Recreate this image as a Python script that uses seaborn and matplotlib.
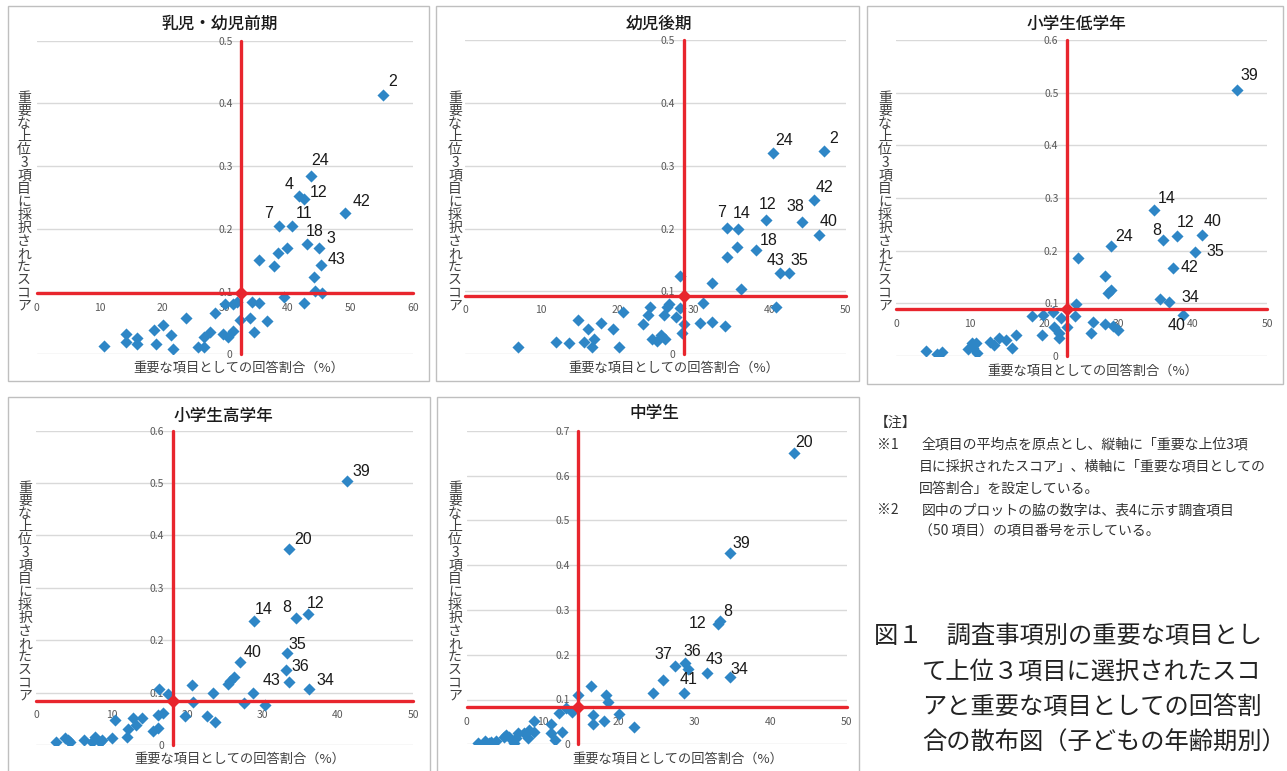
import numpy as np
import pandas as pd
import matplotlib
matplotlib.use("Agg")
import matplotlib.pyplot as plt
from matplotlib.patches import Rectangle
import seaborn as sns

# ---------------------------------------------------------------- data
titles = ["乳児・幼児前期", "幼児後期", "小学生低学年", "小学生高学年", "中学生"]

# 乳児・幼児前期
p1_x = [55.3, 43.7, 41.9, 42.7, 49.2, 38.7, 40.8, 43.2, 45.1, 45.3,
        39.9, 38.5, 35.4, 37.9, 44.3, 44.4, 45.5, 39.5, 42.6, 34.3, 35.4, 31.9,
        31.4, 30.1, 32.4, 34.1, 36.7, 34.7, 28.4, 23.9, 20.2, 18.7, 21.4, 19.1,
        21.8, 14.3, 14.3, 16.0, 16.0, 10.7, 25.8, 26.7, 26.7, 27.6, 29.7, 30.6, 31.4]
p1_y = [0.413, 0.285, 0.253, 0.248, 0.226, 0.204, 0.205, 0.176, 0.170, 0.143,
        0.170, 0.162, 0.151, 0.141, 0.123, 0.101, 0.098, 0.092, 0.082, 0.084, 0.082, 0.083,
        0.080, 0.080, 0.054, 0.058, 0.053, 0.035, 0.066, 0.058, 0.046, 0.038, 0.031, 0.016,
        0.0085, 0.032, 0.019, 0.026, 0.016, 0.014, 0.012, 0.012, 0.028, 0.035, 0.032, 0.028, 0.037]
p1_item = ["2", "24", "4", "12", "42", "7", "11", "18", "3", "43"]

# 幼児後期
p2_x = [47.1, 40.4, 45.8, 44.3, 39.5, 46.5, 34.4, 35.9, 38.2, 41.4, 42.6,
        35.7, 34.4, 32.5, 36.2, 28.2, 31.2, 40.8, 30.9, 32.5, 34.1, 28.8, 28.5, 27.7,
        26.8, 26.5, 26.1, 28.2, 24.3, 24.1, 23.4, 20.8, 19.4, 17.9, 16.2, 14.8, 17.0,
        16.7, 15.6, 13.7, 11.9, 7.0, 20.2, 24.5, 25.2, 25.8, 26.3]
p2_y = [0.324, 0.320, 0.245, 0.211, 0.214, 0.190, 0.201, 0.200, 0.166, 0.130, 0.130,
        0.170, 0.154, 0.114, 0.104, 0.125, 0.082, 0.075, 0.050, 0.052, 0.045, 0.048, 0.034, 0.060,
        0.080, 0.075, 0.063, 0.073, 0.075, 0.063, 0.048, 0.067, 0.040, 0.049, 0.041, 0.055, 0.024,
        0.012, 0.019, 0.018, 0.019, 0.012, 0.011, 0.024, 0.021, 0.031, 0.025]
p2_item = ["2", "24", "42", "38", "12", "40", "7", "14", "18", "43", "35"]

# 小学生低学年
p3_x = [45.9, 34.8, 36.0, 37.9, 41.2, 40.3, 37.3, 29.0, 36.7, 38.7,
        24.5, 28.1, 28.6, 29.0, 35.5, 24.2, 24.1, 21.2, 19.8, 18.3, 22.2, 23.0, 21.3,
        22.0, 21.9, 19.7, 26.5, 26.2, 28.2, 29.2, 29.9, 16.1, 14.8, 13.9, 12.7, 13.2,
        15.6, 10.8, 10.2, 9.7, 10.9, 4.0, 5.5, 6.2, 10.4]
p3_y = [0.505, 0.277, 0.220, 0.228, 0.230, 0.197, 0.168, 0.209, 0.103, 0.077,
        0.187, 0.152, 0.120, 0.125, 0.109, 0.098, 0.076, 0.084, 0.078, 0.076, 0.073, 0.056, 0.056,
        0.043, 0.035, 0.039, 0.065, 0.044, 0.061, 0.057, 0.049, 0.039, 0.030, 0.035, 0.027, 0.021,
        0.015, 0.024, 0.024, 0.013, 0.005, 0.010, 0.003, 0.008, 0.015]
p3_item = ["39", "14", "8", "12", "40", "35", "42", "24", "34", "40"]

# 小学生高学年
p4_x = [41.2, 33.5, 28.9, 34.4, 36.0, 33.2, 33.1, 33.5, 36.2, 27.0,
        26.2, 25.7, 25.5, 28.7, 27.5, 30.4, 23.4, 20.7, 20.8, 16.3, 17.5, 16.8, 16.2,
        16.2, 15.5, 19.8, 22.7, 23.7, 14.1, 12.8, 13.3, 12.2, 12.0, 10.5, 10.1, 8.7,
        7.8, 7.4, 6.4, 4.3, 3.9, 2.7, 4.5, 8.5]
p4_y = [0.504, 0.374, 0.237, 0.242, 0.250, 0.176, 0.143, 0.120, 0.106, 0.158,
        0.129, 0.123, 0.116, 0.100, 0.080, 0.076, 0.099, 0.115, 0.083, 0.107, 0.097, 0.062, 0.057,
        0.032, 0.027, 0.056, 0.055, 0.043, 0.051, 0.051, 0.038, 0.031, 0.016, 0.048, 0.013, 0.010,
        0.016, 0.006, 0.010, 0.010, 0.014, 0.005, 0.005, 0.006]
p4_item = ["39", "20", "14", "8", "12", "35", "36", "43", "34", "40"]

# 中学生
p5_x = [43.1, 34.7, 33.3, 33.1, 27.4, 28.7, 31.6, 34.7, 28.6,
        29.1, 25.8, 24.5, 16.4, 18.3, 18.6, 14.6, 16.6, 16.6, 18.0, 20.1, 22.0, 13.8,
        13.0, 12.2, 12.6, 11.1, 11.1, 11.6, 8.8, 8.2, 8.1, 7.5, 6.8, 6.2, 5.6, 4.9,
        3.9, 3.2, 2.4, 1.5, 2.9, 6.5, 8.9, 5.2]
p5_y = [0.651, 0.426, 0.275, 0.269, 0.175, 0.181, 0.160, 0.150, 0.114,
        0.167, 0.144, 0.115, 0.131, 0.111, 0.094, 0.109, 0.065, 0.045, 0.053, 0.068, 0.039, 0.071,
        0.080, 0.069, 0.028, 0.045, 0.025, 0.010, 0.052, 0.032, 0.015, 0.025, 0.025, 0.004, 0.017, 0.017,
        0.008, 0.006, 0.008, 0.004, 0.002, 0.013, 0.028, 0.021]
p5_item = ["20", "39", "8", "12", "37", "36", "43", "34", "41"]

# 全項目の平均点（原点）
mean_x = [32.6, 28.7, 23.0, 18.1, 14.7]
mean_y = [0.0972, 0.0933, 0.0892, 0.0846, 0.0826]
x_max = [60, 50, 50, 50, 50]
y_max = [0.5, 0.5, 0.6, 0.6, 0.7]

x_label = "重要な項目としての回答割合（%）"
y_label = "重要な上位3項目に採択されたスコア"

note_head = "【注】"
note_lines = [
    ("※1", "全項目の平均点を原点とし、縦軸に「重要な上位3項"),
    ("", "目に採択されたスコア」、横軸に「重要な項目としての"),
    ("", "回答割合」を設定している。"),
    ("※2", "図中のプロットの脇の数字は、表4に示す調査項目"),
    ("", "（50 項目）の項目番号を示している。"),
]
caption_lines = [
    "図１　調査事項別の重要な項目とし",
    "て上位３項目に選択されたスコ",
    "アと重要な項目としての回答割",
    "合の散布図（子どもの年齢期別）",
]

# ---------------------------------------------------------------- layout
W, H = 1287, 771
BLUE = "#2E86C6"
RED = "#E8252D"

# plot box per panel in pixels: (left, right, top, bottom)
plot_box = [(36.7, 412.7, 40.7, 354.3),
            (465.0, 845.7, 40.0, 354.3),
            (896.0, 1267.3, 40.0, 356.0),
            (36.0, 413.3, 430.7, 745.0),
            (466.7, 846.7, 430.7, 744.3)]
# outer frame per panel in pixels: (left, top, right, bottom)
frames = [(8, 6, 429, 381), (436, 6, 859, 381), (867, 6, 1283, 384),
          (8, 397, 430, 773), (437, 397, 859, 773)]
title_pos = [(220, 24), (659, 24), (1076, 24), (223, 416), (654, 413)]
xlabel_pos = [(239, 368), (674, 368), (1093, 371), (240, 759), (678, 759)]
ylabel_top = [(24, 98), (455, 98), (885, 98), (25, 488), (455, 488)]
# label offsets in pixels (dx, dy) for the numbered points, in order
label_offsets = [
    [(9, 14), (10, 15), (-10, 11), (14, 6), (16, 11), (-11, 13), (12, 12), (7, 12), (12, 9), (16, 5)],
    [(10, 12), (12, 13), (11, 13), (-7, 15), (2, 15), (10, 13), (-5, 15), (3, 15), (13, 9), (-5, 12), (10, 12)],
    [(12, 15), (12, 12), (-7, 10), (8, 13), (11, 13), (20, 1), (17, 0), (13, 9), (22, 4), (-7, -10)],
    [(14, 9), (14, 10), (10, 11), (-9, 11), (8, 11), (11, 8), (15, 4), (-17, 2), (16, 9), (13, 10)],
    [(10, 10), (11, 10), (8, 10), (-21, 0), (-12, 11), (8, 12), (8, 13), (9, 8), (5, 14)],
]

sns.set_theme(style="white")
plt.rcParams["font.family"] = ["Noto Sans CJK JP", "DejaVu Sans"]

fig = plt.figure(figsize=(W / 100, H / 100), dpi=100)
fig.patch.set_facecolor("white")


def fx(px):
    return px / W


def fy(py):
    return 1 - py / H


panels = [(p1_x, p1_y, p1_item), (p2_x, p2_y, p2_item), (p3_x, p3_y, p3_item),
          (p4_x, p4_y, p4_item), (p5_x, p5_y, p5_item)]

for i, (xs, ys, items) in enumerate(panels):
    l, r, t, b = frames[i][0], frames[i][2], frames[i][1], frames[i][3]
    fig.add_artist(Rectangle((fx(l), fy(b)), fx(r - l), (b - t) / H, transform=fig.transFigure,
                             fill=False, edgecolor="#BFBFBF", linewidth=1.0))

    pl, pr, pt, pb = plot_box[i]
    ax = fig.add_axes([fx(pl), fy(pb), fx(pr - pl), (pb - pt) / H])
    ax.set_facecolor("none")

    df = pd.DataFrame({"rate": xs, "score": ys})
    sns.scatterplot(data=df, x="rate", y="score", ax=ax, marker="D", s=38, color=BLUE,
                    linewidth=0, zorder=4, legend=False)

    mx, my = mean_x[i], mean_y[i]
    ax.set_xlim(0, x_max[i])
    ax.set_ylim(0, y_max[i])
    xt = np.arange(0, x_max[i] + 1, 10)
    yt = np.round(np.arange(0, y_max[i] + 1e-9, 0.1), 1)
    ax.set_xticks(xt)
    ax.set_xticklabels([f"{v:d}" for v in xt])
    ax.set_yticks(yt)
    ax.set_yticklabels(["0" if v == 0 else f"{v:.1f}" for v in yt])
    ax.spines["left"].set_position(("data", mx))
    ax.spines["bottom"].set_position(("data", my))
    for s in ax.spines.values():
        s.set_visible(False)
    ax.tick_params(axis="both", length=0, labelsize=7.5, labelcolor="#595959")
    ax.tick_params(axis="y", pad=6)
    ax.tick_params(axis="x", pad=7)
    ax.yaxis.grid(True, color="#D9D9D9", linewidth=1.0)
    ax.xaxis.grid(False)
    ax.set_xlabel("")
    ax.set_ylabel("")

    # 平均点の十字線と原点
    ax.plot([mx, mx], [0, y_max[i]], color=RED, linewidth=2.4, zorder=5, clip_on=False)
    ax.plot([0, x_max[i]], [my, my], color=RED, linewidth=2.4, zorder=5, clip_on=False)
    ax.plot([mx], [my], marker="D", markersize=6.5, color=RED, zorder=6, clip_on=False)

    # 項目番号
    for k, lab in enumerate(items):
        dx, dy = label_offsets[i][k]
        ax.annotate(lab, (xs[k], ys[k]), xytext=(dx, dy), textcoords="offset pixels",
                    ha="center", va="center", fontsize=11.5, color="#1A1A1A",
                    family=["Liberation Sans", "DejaVu Sans"], zorder=7, annotation_clip=False)

    tx, ty = title_pos[i]
    fig.text(fx(tx), fy(ty), titles[i], ha="center", va="center", fontsize=12,
             fontweight="medium", color="#1A1A1A")
    lx, ly = xlabel_pos[i]
    fig.text(fx(lx), fy(ly), x_label, ha="center", va="center", fontsize=9.5, color="#404040")
    yx, yy = ylabel_top[i]
    for k, ch in enumerate(y_label):
        fig.text(fx(yx), fy(yy + 13 * k), ch, ha="center", va="center", fontsize=10, color="#404040")

# 注記
fig.text(fx(875), fy(423), note_head, ha="left", va="center", fontsize=10, color="#333333")
for k, (mark, body) in enumerate(note_lines):
    yy = 445 + 21.7 * k
    if mark:
        fig.text(fx(877), fy(yy), mark, ha="left", va="center", fontsize=10, color="#333333")
        fig.text(fx(922), fy(yy), body, ha="left", va="center", fontsize=10, color="#333333")
    else:
        fig.text(fx(919), fy(yy), body, ha="left", va="center", fontsize=10, color="#333333")

# 図タイトル
cap_y = [636, 672, 707, 743]
for k, line in enumerate(caption_lines):
    x0 = 874 if k == 0 else 922
    fig.text(fx(x0), fy(cap_y[k]), line, ha="left", va="center", fontsize=17.5, color="#222222")

fig.savefig("out.png", dpi=100, facecolor="white")
